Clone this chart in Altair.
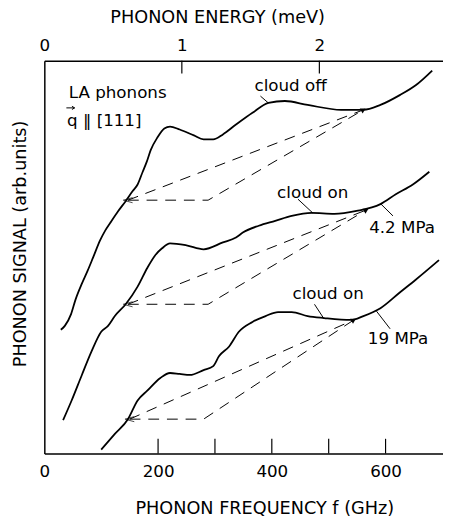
import altair as alt
import pandas as pd

FONT = "DejaVu Sans"
GHZ_PER_MEV = 241.8

# ---- curve data: phonon frequency (GHz) and signal (arb. units) ----
off_f = [29, 36, 47, 55, 66, 76, 86, 98, 107, 116, 130, 143, 155, 164, 173, 180, 187, 199, 211, 221,
         238, 263, 280, 297, 314, 337, 366, 394, 423, 463, 522, 561, 591, 625, 653, 682]
off_s = [126, 130, 142, 157, 173, 186, 200, 217, 227, 235, 247, 257, 267, 274, 287, 297, 309, 322, 331, 333,
         330, 324, 320, 320, 325, 335, 347, 357, 359, 355, 350, 350, 355, 365, 375, 390]

on42_f = [33, 48, 66, 83, 100, 112, 124, 143, 164, 181, 195, 207, 221, 250, 280, 314, 337, 349, 377, 406,
          435, 470, 510, 549, 591, 618, 648, 677]
on42_s = [34, 54, 80, 104, 124, 130, 140, 152, 170, 189, 202, 209, 214, 212, 208, 215, 220, 225, 232, 237,
          242, 245, 244, 247, 254, 264, 274, 287]

on19_f = [100, 124, 147, 164, 181, 204, 221, 238, 256, 280, 297, 307, 325, 342, 366, 389, 411, 435, 463, 492,
          539, 561, 591, 625, 653, 694]
on19_s = [4, 20, 35, 54, 64, 77, 82, 81, 80, 85, 89, 99, 109, 124, 134, 140, 144, 144, 140, 138,
          136, 140, 148, 164, 177, 197]

# ---- dashed construction lines (tip, corner, junction) per curve ----
tip_f = [147, 147, 150]
tip_s = [258, 152, 35]
corner_f = [288, 288, 280]
junction_f = [561, 566, 544]
junction_s = [350, 248, 136]

# ---- axis ticks ----
freq_labels = [0, 200, 400, 600]
freq_ticks = [200, 300, 400, 500, 600]
energy_labels = [0, 1, 2]
energy_ticks = [1, 2]

# ---- annotations ----
labels = [
    {"t": "cloud off", "f": 433, "s": 374, "align": "center"},
    {"t": "cloud on", "f": 472, "s": 265, "align": "center"},
    {"t": "4.2 MPa", "f": 629, "s": 230, "align": "center"},
    {"t": "cloud on", "f": 499, "s": 162, "align": "center"},
    {"t": "19 MPa", "f": 622, "s": 117, "align": "center"},
    {"t": "LA phonons", "f": 43, "s": 367, "align": "left"},
    {"t": "q ‖ [111]", "f": 40, "s": 339, "align": "left"},
]
leaders = [
    (380, 364, 394, 357),
    (446, 259, 472, 245),
    (592, 254, 613, 242),
    (475, 152, 492, 137),
    (584, 145, 608, 127),
]
vector_mark = {"f": 46, "s": 352}

# ---------------- build tables ----------------
rows = []
for name, fs, ss in [("off", off_f, off_s), ("on42", on42_f, on42_s), ("on19", on19_f, on19_s)]:
    for i, (f, s) in enumerate(zip(fs, ss)):
        rows.append({"curve": name, "i": i, "f": f, "s": s})
curves = pd.DataFrame(rows)

drows = []
tips = []
juncs = []
for k in range(3):
    drows.append({"seg": f"u{k}", "i": 0, "f": tip_f[k], "s": tip_s[k]})
    drows.append({"seg": f"u{k}", "i": 1, "f": junction_f[k], "s": junction_s[k]})
    drows.append({"seg": f"l{k}", "i": 0, "f": tip_f[k], "s": tip_s[k]})
    drows.append({"seg": f"l{k}", "i": 1, "f": corner_f[k], "s": tip_s[k]})
    drows.append({"seg": f"l{k}", "i": 2, "f": junction_f[k], "s": junction_s[k]})
    tips.append({"f": tip_f[k], "s": tip_s[k]})
    juncs.append({"f": junction_f[k], "s": junction_s[k]})
dashed = pd.DataFrame(drows)
tips = pd.DataFrame(tips)
juncs = pd.DataFrame(juncs)

lab_df = pd.DataFrame(labels)
lead_df = pd.DataFrame(leaders, columns=["f", "s", "f2", "s2"])
bt_df = pd.DataFrame({"f": freq_ticks})
tt_df = pd.DataFrame({"f": [e * GHZ_PER_MEV for e in energy_ticks]})
vec_df = pd.DataFrame([vector_mark])

xs = alt.Scale(domain=[0, 701], nice=False, zero=False)
ys = alt.Scale(domain=[0, 400], nice=False, zero=False)

bottom_axis = alt.Axis(
    values=freq_labels, ticks=False, tickSize=0, grid=False, labelFlush=False,
    labelFontSize=17, labelFont=FONT, labelColor="black", labelPadding=18, labelBaseline="middle",
    domainColor="black", domainWidth=1.5,
    title="PHONON FREQUENCY f (GHz)", titleFont=FONT, titleFontSize=18, titleFontWeight="normal",
    titleColor="black", titleX=224, titleY=56, titleBaseline="middle",
)
top_axis = alt.Axis(
    orient="top", values=[e * GHZ_PER_MEV for e in energy_labels], ticks=False, tickSize=0, grid=False,
    labelFlush=False, labelExpr="round(datum.value / 241.8)",
    labelFontSize=17, labelFont=FONT, labelColor="black", labelPadding=15, labelBaseline="middle",
    domainColor="black", domainWidth=1.5,
    title="PHONON ENERGY (meV)", titleFont=FONT, titleFontSize=18, titleFontWeight="normal",
    titleColor="black", titleX=176, titleY=-44, titleBaseline="middle",
)
left_axis = alt.Axis(
    labels=False, ticks=False, tickSize=0, grid=False, domainColor="black", domainWidth=1.5,
    title="PHONON SIGNAL (arb.units)", titleFont=FONT, titleFontSize=18, titleFontWeight="normal",
    titleColor="black", titleX=-24, titleY=186, titleBaseline="middle", titleAngle=270,
    titleAlign="center",
)

curve_layer = alt.Chart(curves).mark_line(color="black", strokeWidth=1.8, interpolate="monotone").encode(
    x=alt.X("f:Q", scale=xs, axis=bottom_axis),
    y=alt.Y("s:Q", scale=ys, axis=left_axis),
    detail="curve:N",
    order="i:Q",
)

dash_layer = alt.Chart(dashed).mark_line(color="black", strokeWidth=1.0, strokeDash=[11, 8]).encode(
    x=alt.X("f:Q", scale=xs, axis=None),
    y=alt.Y("s:Q", scale=ys, axis=None),
    detail="seg:N",
    order="i:Q",
)

tip_layer = alt.Chart(tips).mark_point(
    shape="M 1 -0.55 L -1 0 L 1 0.55", filled=False, stroke="black", strokeWidth=1.0, size=90
).encode(
    x=alt.X("f:Q", scale=xs, axis=None),
    y=alt.Y("s:Q", scale=ys, axis=None),
)

junc_layer = alt.Chart(juncs).mark_point(
    shape="triangle-right", filled=True, color="black", size=35, angle=330, opacity=1
).encode(
    x=alt.X("f:Q", scale=xs, axis=None),
    y=alt.Y("s:Q", scale=ys, axis=None),
)

vec_layer = alt.Chart(vec_df).mark_point(
    shape="M -1 0 L 1 0 M 0.35 -0.4 L 1 0 L 0.35 0.4", filled=False, stroke="black",
    strokeWidth=1.0, size=70, opacity=1
).encode(
    x=alt.X("f:Q", scale=xs, axis=None),
    y=alt.Y("s:Q", scale=ys, axis=None),
)

lead_layer = alt.Chart(lead_df).mark_rule(color="black", strokeWidth=1.0).encode(
    x=alt.X("f:Q", scale=xs, axis=None),
    y=alt.Y("s:Q", scale=ys, axis=None),
    x2="f2:Q",
    y2="s2:Q",
)

text_center = alt.Chart(lab_df[lab_df["align"] == "center"]).mark_text(
    font=FONT, fontSize=17, color="black", align="center", baseline="middle"
).encode(
    x=alt.X("f:Q", scale=xs, axis=None),
    y=alt.Y("s:Q", scale=ys, axis=None),
    text="t:N",
)
text_left = alt.Chart(lab_df[lab_df["align"] == "left"]).mark_text(
    font=FONT, fontSize=17, color="black", align="left", baseline="middle"
).encode(
    x=alt.X("f:Q", scale=xs, axis=None),
    y=alt.Y("s:Q", scale=ys, axis=None),
    text="t:N",
)

bottom_ticks = alt.Chart(bt_df).mark_rule(color="black", strokeWidth=1.2).encode(
    x=alt.X("f:Q", scale=xs, axis=None),
    y=alt.datum(0, scale=ys, axis=None),
    y2=alt.datum(15),
)
top_ticks = alt.Chart(tt_df).mark_rule(color="black", strokeWidth=1.2).encode(
    x=alt.X("f:Q", scale=xs, axis=top_axis),
    y=alt.datum(400, scale=ys, axis=None),
    y2=alt.datum(387),
)

chart = alt.layer(
    curve_layer, dash_layer, tip_layer, junc_layer, vec_layer, lead_layer,
    text_center, text_left, bottom_ticks, top_ticks,
).resolve_axis(x="independent", y="independent").properties(
    width=406, height=400,
    autosize=alt.AutoSizeParams(type="none"),
    padding={"left": 37, "top": 49, "right": 0, "bottom": 64},
    background="white",
).configure_view(stroke=None)

chart.save("out.html", embed_options={"renderer": "svg", "actions": False})
